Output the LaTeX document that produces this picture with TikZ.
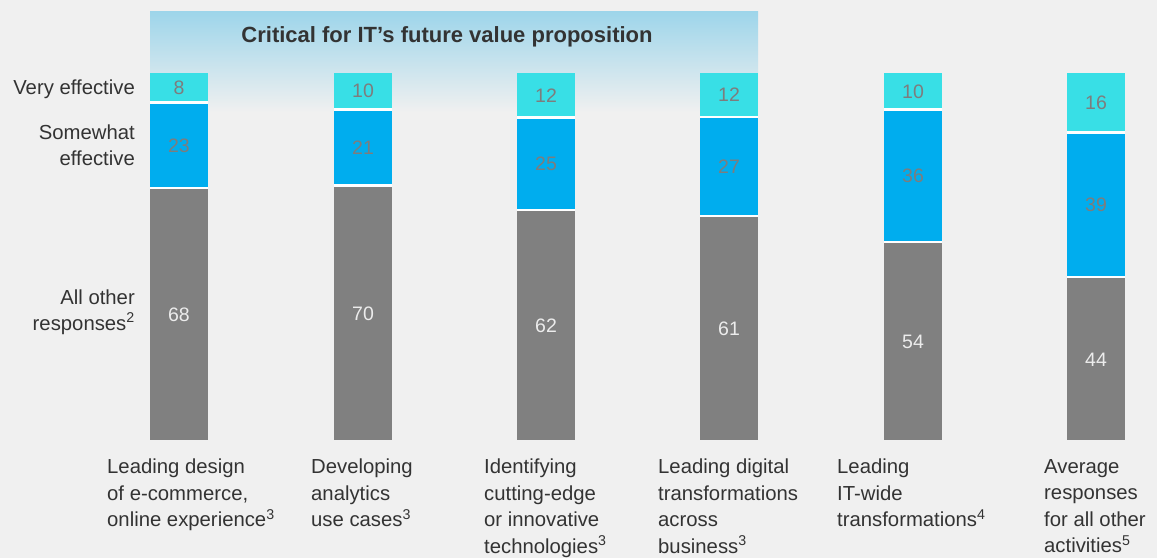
\documentclass[tikz,border=0pt]{standalone}
\usepackage{fontspec}
\setmainfont{Liberation Sans}
\usetikzlibrary{positioning}
\definecolor{bg}{RGB}{240,240,240}
\definecolor{veryeff}{RGB}{56,223,230}
\definecolor{someeff}{RGB}{0,173,238}
\definecolor{otherresp}{RGB}{128,128,128}
\definecolor{bandtop}{RGB}{157,213,234}
\definecolor{numdark}{RGB}{125,125,125}
\definecolor{numlight}{RGB}{236,236,236}
\definecolor{labeltext}{RGB}{51,51,51}
\tikzset{
  title/.style={font=\fontsize{22}{26}\selectfont\bfseries, text=labeltext, inner sep=0pt},
  sidelabel/.style={font=\fontsize{20.3}{26}\selectfont, text=labeltext, align=right, anchor=east, inner sep=0pt},
  barlabel/.style={font=\fontsize{20.3}{26.5}\selectfont, text=labeltext, align=left, anchor=north west, inner sep=0pt},
  num/.style={font=\fontsize{19.5}{20}\selectfont, inner sep=0pt},
  sep/.style={white, line width=2.5pt}
}
\begin{document}
\begin{tikzpicture}[x=1pt,y=-1pt]
\fill[bg] (0,0) rectangle (1157,558);
\useasboundingbox (0,0) rectangle (1157,558);
\shade[top color=bandtop, bottom color=bg] (150,11) rectangle (758,112);
\node[title] (crit) at (447,37) {Critical for IT's future value proposition};

% stacked bars: index / left x / very / somewhat / other
\foreach \i/\x/\a/\b/\c in {1/150/8/23/68, 2/334/10/21/70, 3/517/12/25/62,
                            4/700/12/27/61, 5/884/10/36/54, 6/1067/16/39/44} {
  \pgfmathsetmacro\tot{\a+\b+\c}
  \pgfmathsetmacro\ya{73+367*\a/\tot}
  \pgfmathsetmacro\yb{\ya+367*\b/\tot}
  \fill[veryeff] (\x,73) rectangle (\x+58,\ya);
  \fill[someeff] (\x,\ya) rectangle (\x+58,\yb);
  \fill[otherresp] (\x,\yb) rectangle (\x+58,440);
  \draw[sep] (\x,\ya) -- (\x+58,\ya);
  \draw[sep] (\x,\yb) -- (\x+58,\yb);
  \node[num, text=numdark] (v\i) at (\x+29,{(73+\ya)/2}) {\a};
  \node[num, text=numdark] (s\i) at (\x+29,{(\ya+\yb)/2}) {\b};
  \node[num, text=numlight] (o\i) at (\x+29,{(\yb+440)/2+1}) {\c};
}

% row labels
\node[sidelabel] (very) at (135,89) {Very effective};
\node[sidelabel] (some) at (135,145) {Somewhat\\effective};
\node[sidelabel] (other) at (135,312) {All other\\responses\textsuperscript{2}};

% category labels
\foreach \j/\x/\txt in {1/107/{Leading design\\of e-commerce,\\online experience\textsuperscript{3}},
                        2/311/{Developing\\analytics\\use cases\textsuperscript{3}},
                        3/484/{Identifying\\cutting-edge\\or innovative\\technologies\textsuperscript{3}},
                        4/658/{Leading digital\\transformations\\across\\business\textsuperscript{3}},
                        5/837/{Leading\\IT-wide\\transformations\textsuperscript{4}},
                        6/1044/{Average\\responses\\for all other\\activities\textsuperscript{5}}}
  \node[barlabel] (cat\j) at (\x,459) {\txt};
\end{tikzpicture}
\end{document}
